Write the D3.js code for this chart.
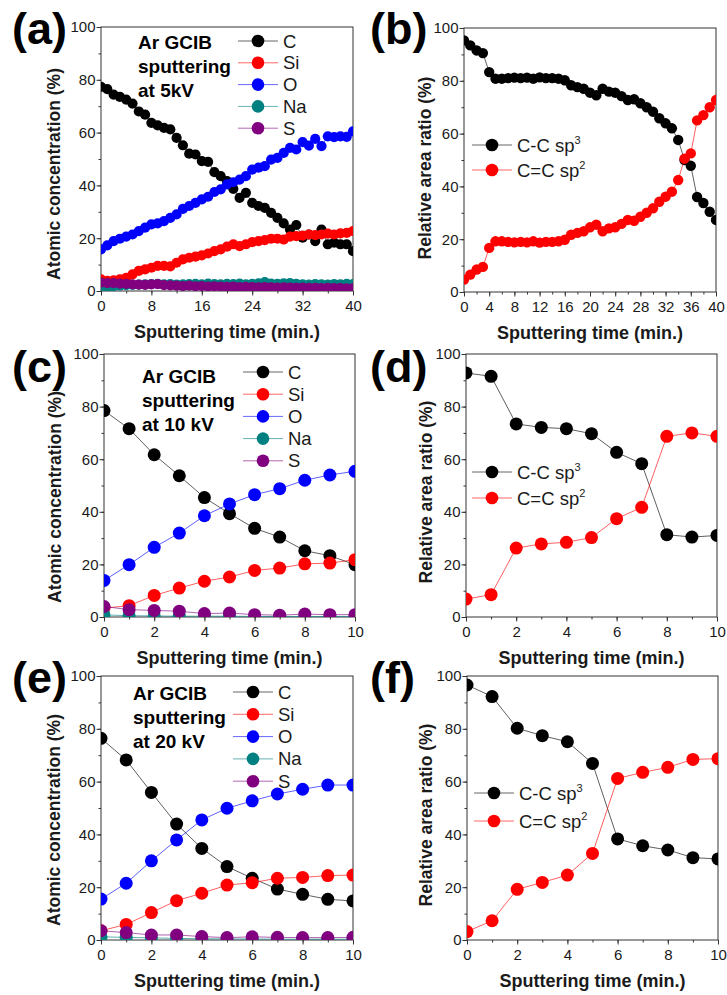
<!DOCTYPE html>
<html>
<head>
<meta charset="utf-8">
<script src="https://cdn.jsdelivr.net/npm/d3@7"></script>
<style>
  body { margin: 0; background: #fff; }
  svg { font-family: "Liberation Sans", Arial, sans-serif; }
</style>
</head>
<body>
<div id="fig"></div>
<script>
// ---- data ----
const time40 = [0,1,2,3,4,5,6,7,8,9,10,11,12,13,14,15,16,17,18,19,20,21,22,23,24,25,26,27,28,29,30,31,32,33,34,35,36,37,38,39,40];
const time10 = [0,1,2,3,4,5,6,7,8,9,10];

const yTicks = [0, 20, 40, 60, 80, 100];
const xTicksA = [0, 8, 16, 24, 32, 40];
const xTicksB = [0, 4, 8, 12, 16, 20, 24, 28, 32, 36, 40];
const xTicks10 = [0, 2, 4, 6, 8, 10];

const elementNames = ['C', 'Si', 'O', 'Na', 'S'];
const elementColors = ['#000000', '#ff0000', '#0000ff', '#008080', '#800080'];
const bondNames = ['C-C sp', 'C=C sp'];
const bondSup = ['3', '2'];
const bondColors = ['#000000', '#ff0000'];

const noteA = ['Ar GCIB', 'sputtering', 'at 5kV'];
const noteC = ['Ar GCIB', 'sputtering', 'at 10 kV'];
const noteE = ['Ar GCIB', 'sputtering', 'at 20 kV'];

// (a) 5 kV
const aC  = [77.3,76.5,74.4,73.5,72.5,71,68,66.8,63.7,62.7,61.8,61.2,58,55.2,52,51.7,49.2,48.9,45,43.5,41.6,38.7,35.3,37.2,33.4,32.2,31.5,29.6,27.7,25.6,23.3,25,20.2,21.4,18.9,23.3,17.7,18.3,17.7,17.7,15.1];
const aSi = [4.4,3.8,4,4.4,5,6.3,7.6,8.2,8.8,9.5,9.5,9.3,10.7,12,12.6,13,13.5,14.2,15.1,15.8,16.8,17.7,17,17.7,18.5,18.9,19.3,19.8,19.8,19.5,20.6,20.8,21,21.4,21.2,21.4,21.7,21.4,21.8,22,22.7];
const aO  = [15.8,17.3,18.9,19.8,20.6,21.4,22.7,24,25.2,25.6,26.5,27.7,29,31.1,32.2,33.4,34.7,35.7,37.5,38.5,40.4,41.2,42.2,43.5,46,46.7,47.3,49.8,50.4,52.3,54.2,53.6,56.4,55.1,57.6,54.9,58.6,58.3,58.6,58.4,60.5];
const aNa = [1.2,1.5,1.8,2,2.2,2.3,2.4,2.5,2.6,2.7,2.5,2.6,2.4,2.5,2.6,2.7,2.5,2.8,2.6,2.5,2.7,2.6,2.8,2.5,2.7,2.9,3.4,2.8,2.7,2.9,3,2.7,2.5,2.4,2.6,2.5,2.4,2.6,2.5,2.7,2.6];
const aS  = [3.2,3,3,2.8,2.7,2.5,2.4,2.3,2.5,2.6,2.2,2.1,2,1.9,2,1.8,1.9,1.7,1.8,1.7,1.6,1.7,1.5,1.6,1.5,1.4,1.5,1.4,1.3,1.4,1.3,1.2,1.3,1.2,1.2,1.1,1.2,1.1,1.1,1,1];

// (b) 5 kV
const bCC  = [95.3,93.4,91.5,90.5,83.3,80.8,80.8,81,81.2,81,81.2,80.8,81.3,81,81,80.8,80.2,78.3,77.6,77,75.5,74.5,77,75.9,75.5,74.2,72.7,73,71.5,70,68.3,65.8,63.9,62,57.6,50,47.8,36,33.7,30.4,27.3];
const bCsp = [4.7,6.6,8.5,9.5,16.7,19.2,19.2,19,18.8,19,18.8,19.2,18.7,19,19,19.2,19.8,21.7,22.4,23,24.5,25.5,23,24.1,24.5,25.8,27.3,27,28.5,30,31.7,34.2,36.1,38,42.4,50.5,52.5,65,67,70,72.7];

// (c) 10 kV
const cC  = [78.5,71.6,61.7,53.7,45.4,39.3,33.7,30.4,25.2,23.3,19.9];
const cSi = [3.4,4.3,8.2,11,13.6,15.2,17.7,18.6,20.2,20.5,21.8];
const cO  = [13.9,19.9,26.5,31.9,38.5,43,46.5,48.8,52,54,55.4];
const cNa = [0.8,0.5,0.4,0.3,0.3,0.3,0.2,0.2,0.2,0.2,0.2];
const cS  = [4,2.8,2.5,2.2,1.3,1.5,0.9,0.7,1.1,0.9,0.9];

// (d) 10 kV
const dCC  = [92.8,91.5,73.4,72.1,71.6,69.7,62.6,58.3,31.3,30.4,31];
const dCsp = [6.8,8.5,26.2,27.8,28.4,30.2,37.4,41.7,68.7,70,68.7];

// (e) 20 kV
const eC  = [76.4,68.2,55.9,43.9,34.7,27.8,23.4,19.3,17.3,15.4,14.8];
const eSi = [3.5,5.9,10.4,14.9,17.7,20.8,21.7,23.4,23.7,24.4,24.6];
const eO  = [15.5,21.5,30,37.9,45.5,49.9,52.7,55.3,57.1,58.7,58.7];
const eNa = [1.2,1,0.8,0.6,0.5,0.4,0.4,0.3,0.3,0.3,0.3];
const eS  = [3.5,2.8,1.9,1.9,1.3,0.9,1.2,1,0.9,0.9,1];

// (f) 20 kV
const fCC  = [96.6,92.2,80.2,77.4,75.1,66.9,38.3,35.7,34.1,31.2,30.7];
const fCsp = [3.2,7.3,19.2,21.8,24.6,32.8,61.2,63.5,65.4,68.4,68.7];

// ---- drawing ----
const svg = d3.select('#fig').append('svg')
    .attr('width', 727)
    .attr('height', 995)
    .style('background', 'white');

const axisColor = '#333';
const textColor = '#1a1a1a';

function styleAxis(a) {
    a.attr('font-family', null).attr('font-size', null);
    a.select('.domain').remove();
    a.selectAll('line').attr('stroke', axisColor);
    a.selectAll('text').attr('fill', textColor).style('font-size', '15px');
}

function drawPanel(p) {
    const x = d3.scaleLinear().domain([0, p.xMax]).range([p.left, p.left + p.w]);
    const y = d3.scaleLinear().domain([0, 100]).range([p.top + p.h, p.top]);
    const g = svg.append('g');
    const bottom = p.top + p.h;

    // minor ticks
    g.append('g').attr('transform', `translate(0,${bottom})`)
        .call(d3.axisBottom(x).tickValues(d3.range(0, p.xMax + 0.01, p.xMinor)).tickSize(2.5).tickFormat(''))
        .call(styleAxis);
    g.append('g').attr('transform', `translate(${p.left},0)`)
        .call(d3.axisLeft(y).tickValues(d3.range(0, 101, 10)).tickSize(2.5).tickFormat(''))
        .call(styleAxis);

    // major ticks + labels
    g.append('g').attr('transform', `translate(0,${bottom})`)
        .call(d3.axisBottom(x).tickValues(p.xTicks).tickSize(4.5).tickPadding(5))
        .call(styleAxis);
    g.append('g').attr('transform', `translate(${p.left},0)`)
        .call(d3.axisLeft(y).tickValues(yTicks).tickSize(4.5).tickPadding(1))
        .call(styleAxis);

    // frame
    g.append('rect')
        .attr('x', p.left).attr('y', p.top)
        .attr('width', p.w).attr('height', p.h)
        .attr('fill', 'none').attr('stroke', axisColor).attr('stroke-width', 1);

    // clip
    const clipId = 'clip-' + p.id;
    svg.append('clipPath').attr('id', clipId).append('rect')
        .attr('x', p.left).attr('y', p.top).attr('width', p.w).attr('height', p.h);

    const plot = g.append('g').attr('clip-path', `url(#${clipId})`);
    const line = d3.line().x((d, i) => x(p.time[i])).y(d => y(d));

    p.series.forEach((s, k) => {
        plot.append('path')
            .datum(s)
            .attr('d', line)
            .attr('fill', 'none')
            .attr('stroke', p.colors[k])
            .attr('stroke-width', 0.9)
            .attr('stroke-opacity', 0.7);
        plot.append('g').selectAll('circle')
            .data(s).enter().append('circle')
            .attr('cx', (d, i) => x(p.time[i]))
            .attr('cy', d => y(d))
            .attr('r', p.r)
            .attr('fill', p.colors[k]);
    });

    // axis titles
    g.append('text')
        .attr('x', p.left + p.w / 2)
        .attr('y', bottom + 47)
        .attr('text-anchor', 'middle')
        .attr('fill', textColor)
        .style('font-size', '18px')
        .style('font-weight', 'bold')
        .text('Sputtering time (min.)');

    g.append('text')
        .attr('transform', `translate(${p.yTitleX},${p.yTitleY}) rotate(-90)`)
        .attr('text-anchor', 'middle')
        .attr('fill', textColor)
        .style('font-size', '17.5px')
        .style('font-weight', 'bold')
        .text(p.yTitle);

    // panel letter
    g.append('text')
        .attr('x', p.labelX).attr('y', p.labelY)
        .attr('fill', '#000')
        .style('font-size', '45px')
        .style('font-weight', 'bold')
        .text(p.label);

    // legend
    p.names.forEach((n, k) => {
        const ly = p.legY + k * p.legStep;
        g.append('line')
            .attr('x1', p.legX).attr('x2', p.legX + 40)
            .attr('y1', ly).attr('y2', ly)
            .attr('stroke', p.colors[k]).attr('stroke-width', 1).attr('stroke-opacity', 0.6);
        g.append('circle')
            .attr('cx', p.legX + 20).attr('cy', ly).attr('r', 6.3)
            .attr('fill', p.colors[k]);
        const t = g.append('text')
            .attr('x', p.legX + 45).attr('y', ly + 6.5)
            .attr('fill', textColor)
            .style('font-size', '18.5px')
            .text(n);
        if (p.sup) {
            t.append('tspan')
                .attr('dy', -8)
                .style('font-size', '11px')
                .text(p.sup[k]);
        }
    });

    // annotation
    if (p.note) {
        p.note.forEach((line, k) => {
            g.append('text')
                .attr('x', p.noteX).attr('y', p.noteY + k * 24)
                .attr('fill', '#000')
                .style('font-size', '19px')
                .style('font-weight', 'bold')
                .text(line);
        });
    }
}

const concTitle = 'Atomic concentration (%)';
const ratioTitle = 'Relative area ratio (%)';

drawPanel({ id: 'a', label: '(a)', labelX: 12, labelY: 44,
    left: 101, top: 27, w: 252, h: 264, xMax: 40, xTicks: xTicksA, xMinor: 4,
    time: time40, series: [aC, aSi, aO, aNa, aS], colors: elementColors, r: 5.1,
    names: elementNames, legX: 238, legY: 41, legStep: 21.8,
    note: noteA, noteX: 138, noteY: 49,
    yTitle: concTitle, yTitleX: 60, yTitleY: 174 });

drawPanel({ id: 'b', label: '(b)', labelX: 370, labelY: 44,
    left: 464, top: 28, w: 252, h: 264, xMax: 40, xTicks: xTicksB, xMinor: 2,
    time: time40, series: [bCC, bCsp], colors: bondColors, r: 5.2,
    names: bondNames, sup: bondSup, legX: 472, legY: 145, legStep: 25,
    yTitle: ratioTitle, yTitleX: 431, yTitleY: 168 });

drawPanel({ id: 'c', label: '(c)', labelX: 12, labelY: 382,
    left: 104, top: 354, w: 251, h: 263, xMax: 10, xTicks: xTicks10, xMinor: 1,
    time: time10, series: [cC, cSi, cO, cNa, cS], colors: elementColors, r: 6.5,
    names: elementNames, legX: 243, legY: 372, legStep: 22.2,
    note: noteC, noteX: 142, noteY: 383,
    yTitle: concTitle, yTitleX: 61, yTitleY: 497 });

drawPanel({ id: 'd', label: '(d)', labelX: 370, labelY: 382,
    left: 466, top: 354, w: 251, h: 263, xMax: 10, xTicks: xTicks10, xMinor: 1,
    time: time10, series: [dCC, dCsp], colors: bondColors, r: 6.5,
    names: bondNames, sup: bondSup, legX: 472, legY: 472, legStep: 26,
    yTitle: ratioTitle, yTitleX: 432, yTitleY: 492 });

drawPanel({ id: 'e', label: '(e)', labelX: 12, labelY: 693,
    left: 101, top: 676, w: 252, h: 264, xMax: 10, xTicks: xTicks10, xMinor: 1,
    time: time10, series: [eC, eSi, eO, eNa, eS], colors: elementColors, r: 6.5,
    names: elementNames, legX: 233, legY: 692, legStep: 22.3,
    note: noteE, noteX: 133, noteY: 700,
    yTitle: concTitle, yTitleX: 60, yTitleY: 820 });

drawPanel({ id: 'f', label: '(f)', labelX: 370, labelY: 693,
    left: 467, top: 676, w: 251, h: 264, xMax: 10, xTicks: xTicks10, xMinor: 1,
    time: time10, series: [fCC, fCsp], colors: bondColors, r: 6.5,
    names: bondNames, sup: bondSup, legX: 474, legY: 793, legStep: 28,
    yTitle: ratioTitle, yTitleX: 432, yTitleY: 815 });
</script>
</body>
</html>
